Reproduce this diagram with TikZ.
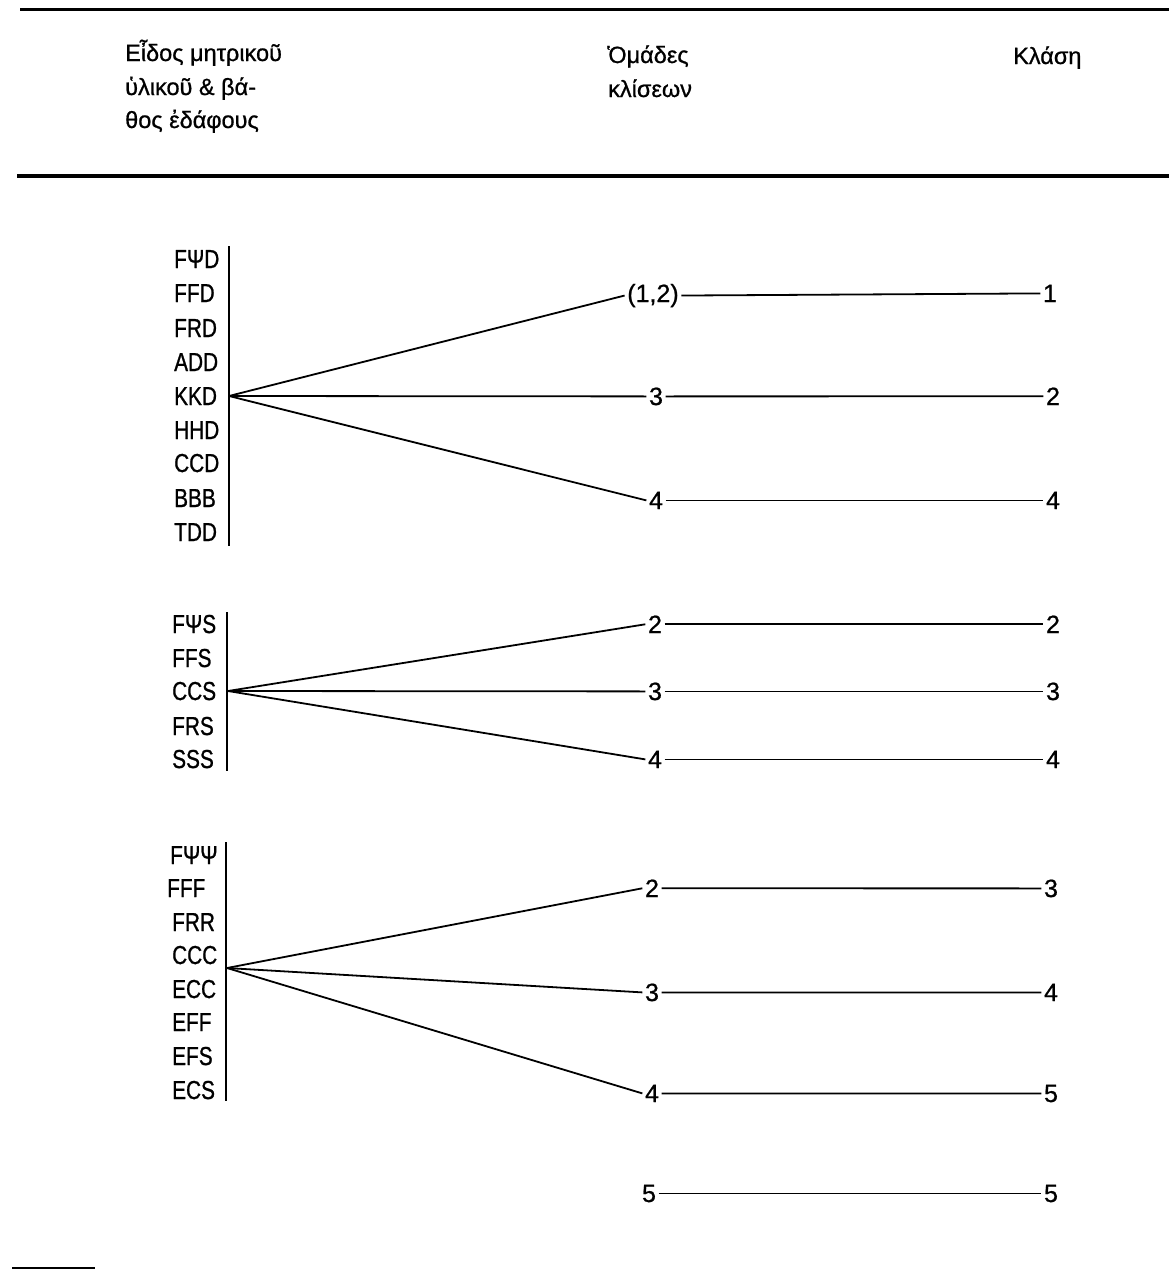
\documentclass[tikz,border=0pt]{standalone}
\usepackage{fontspec}
\setmainfont{Liberation Sans}[FakeBold=0.8]
\newfontfamily\narrowfont{Liberation Sans}[FakeStretch=0.8,FakeBold=0.9]
\begin{document}
\begin{tikzpicture}[x=1pt,y=-1pt,
  lbl/.style={font=\narrowfont\fontsize{26}{30}\selectfont, inner sep=0pt, anchor=base west},
  hdr/.style={font=\fontsize{23.5}{28}\selectfont, inner sep=0pt, anchor=base west},
  num/.style={font=\fontsize{25}{30}\selectfont, inner sep=2.5pt, anchor=base},
  conn/.style={line width=1.8pt},
  bar/.style={line width=2.8pt},
  rule/.style={line width=3pt}]
\useasboundingbox (0,0) rectangle (1169,1270);
% rules
\coordinate (rt1) at (20,9);  \coordinate (rt2) at (1169,9);
\coordinate (rh1) at (17,176); \coordinate (rh2) at (1169,176);
\coordinate (rb1) at (12,1268); \coordinate (rb2) at (95,1268);
\draw[rule] (rt1) -- (rt2);
\draw[rule,line width=3.4pt] (rh1) -- (rh2);
\draw[line width=1.2pt] (rb1) -- (rb2);
% header
\node[hdr] (h1a) at (125,61) {Εἶδος μητρικοῦ};
\node[hdr] (h1b) at (125,95) {ὑλικοῦ \& βά-};
\node[hdr] (h1c) at (125,128) {θος ἐδάφους};
\node[hdr] (h2a) at (607,63) {Ὁμάδες};
\node[hdr] (h2b) at (608,97) {κλίσεων};
\node[hdr] (h3) at (1013,64) {Κλάση};
% group 1
\foreach \t/\y [count=\i] in {FΨD/259,FFD/293,FRD/328,ADD/362,KKD/396,HHD/430,CCD/463,BBB/498,TDD/532}
  \node[lbl] (ga\i) at (174,\y+9) {\t};
\coordinate (ba1) at (229,246); \coordinate (ba2) at (229,546);
\draw[bar] (ba1) -- (ba2);
\coordinate (ja) at (229,396);
\node[num] (ma1) at (653,293+9) {(1,2)};
\node[num] (ma2) at (656,396+9) {3};
\node[num] (ma3) at (656,500+9) {4};
\node[num] (ra1) at (1050,293+9) {1};
\node[num] (ra2) at (1053,396+9) {2};
\node[num] (ra3) at (1053,500+9) {4};
% group 2
\foreach \t/\y [count=\i] in {FΨS/624,FFS/658,CCS/691,FRS/726,SSS/759}
  \node[lbl] (gb\i) at (172,\y+9) {\t};
\coordinate (bb1) at (227,612); \coordinate (bb2) at (227,771);
\draw[bar] (bb1) -- (bb2);
\coordinate (jb) at (228,691);
\node[num] (mb1) at (655,624+9) {2};
\node[num] (mb2) at (655,691+9) {3};
\node[num] (mb3) at (655,759+9) {4};
\node[num] (rb1n) at (1053,624+9) {2};
\node[num] (rb2n) at (1053,691+9) {3};
\node[num] (rb3n) at (1053,759+9) {4};
% group 3
\foreach \t/\y/\x [count=\i] in {FΨΨ/855/170,FFF/888/167,FRR/922/172,CCC/955/172,ECC/989/172,EFF/1022/172,EFS/1056/172,ECS/1090/172}
  \node[lbl] (gc\i) at (\x,\y+9) {\t};
\coordinate (bc1) at (226,842); \coordinate (bc2) at (226,1101);
\draw[bar] (bc1) -- (bc2);
\coordinate (jc) at (227,968);
\node[num] (mc1) at (652,888+9) {2};
\node[num] (mc2) at (652,992+9) {3};
\node[num] (mc3) at (652,1093+9) {4};
\node[num] (rc1) at (1051,888+9) {3};
\node[num] (rc2) at (1051,992+9) {4};
\node[num] (rc3) at (1051,1093+9) {5};
% bottom
\node[num] (md) at (649,1193+9) {5};
\node[num] (rd) at (1051,1193+9) {5};
% connectors
\foreach \g in {a,b,c}
  \foreach \i in {1,2,3} {
    \draw[conn] (j\g) -- (m\g\i.west);
  }
\foreach \i in {1,2,3} {
  \draw[conn] (ma\i.east) -- (ra\i.west);
  \draw[conn] (mc\i.east) -- (rc\i.west);
}
\draw[conn] (mb1.east) -- (rb1n.west);
\draw[conn] (mb2.east) -- (rb2n.west);
\draw[conn] (mb3.east) -- (rb3n.west);
\draw[conn] (md.east) -- (rd.west);
\end{tikzpicture}
\end{document}
